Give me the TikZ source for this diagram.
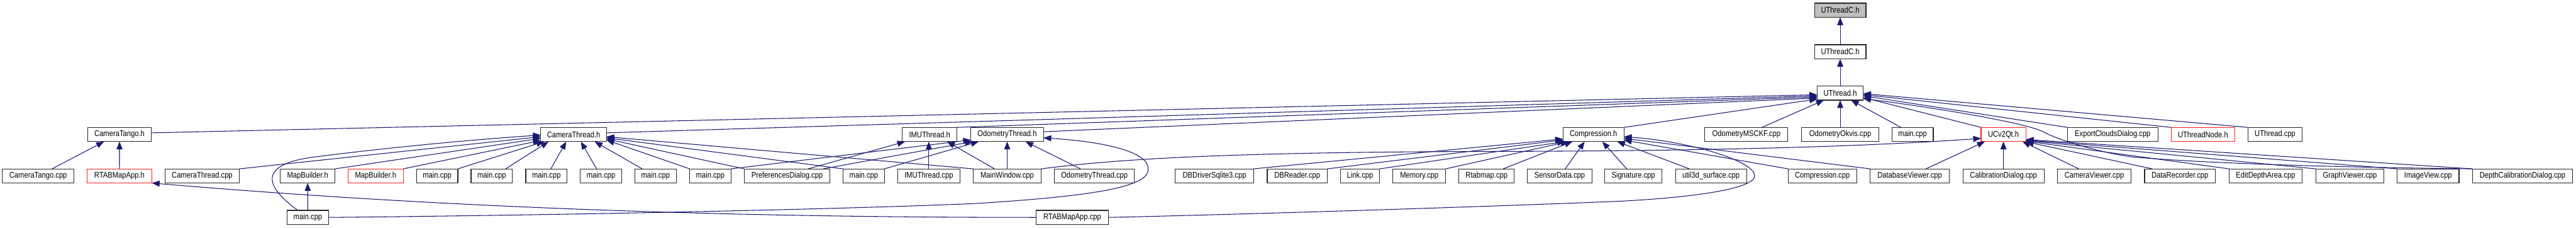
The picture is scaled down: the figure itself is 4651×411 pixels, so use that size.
\documentclass[tikz,border=0pt]{standalone}
\usepackage{fontspec}
\setmainfont{Liberation Sans}[FakeStretch=0.86]
\usetikzlibrary{arrows.meta,calc}
\definecolor{edgec}{HTML}{191970}
\definecolor{redb}{HTML}{FF2020}
\definecolor{greyf}{HTML}{BFBFBF}
\begin{document}
\begin{tikzpicture}[x=0.5pt,y=-0.5pt,
  box/.style={draw=black!85,line width=0.65pt,fill=white,minimum height=12.8pt,inner sep=0pt,outer sep=0pt,font=\fontsize{7.4}{8}\selectfont},
  redbox/.style={box,draw=redb},
  greybox/.style={box,fill=greyf},
  edge/.style={draw=edgec,line width=0.6pt,-{Triangle[length=7pt,width=5.4pt]}}]
\fill[white] (0,0) rectangle (4651,411);
\useasboundingbox (0,0) rectangle (4651,411);
% rows 0-2
\node[greybox,minimum width=46.5pt] (top) at (3322.5,18.5) {UThreadC.h};
\node[box,minimum width=46.5pt] (uthc) at (3322.5,93.4) {UThreadC.h};
\node[box,minimum width=41.5pt] (uth) at (3322.5,167.8) {UThread.h};
% row 3
\node[box,minimum width=57.4pt] (ctangoh) at (215.8,242.5) {CameraTango.h};
\node[box,minimum width=59.3pt] (cthreadh) at (1035.7,242.5) {CameraThread.h};
\node[box,minimum width=49.5pt] (imuh) at (1678.5,242.5) {IMUThread.h};
\node[box,minimum width=65.5pt] (odomh) at (1818.5,242.5) {OdometryThread.h};
\node[box,minimum width=55pt] (comph) at (2877,242.5) {Compression.h};
\node[box,minimum width=75pt] (msckf) at (3153,242.5) {OdometryMSCKF.cpp};
\node[box,minimum width=69.5pt] (okvis) at (3322.5,242.5) {OdometryOkvis.cpp};
\node[box,minimum width=37.25pt] (main3) at (3453.2,242.5) {main.cpp};
\node[redbox,minimum width=40.5pt] (ucv) at (3617.2,242.5) {UCv2Qt.h};
\node[box,minimum width=81.5pt] (export) at (3814.5,242.5) {ExportCloudsDialog.cpp};
\node[redbox,minimum width=57.25pt] (utnode) at (3977.5,242.5) {UThreadNode.h};
\node[box,minimum width=48.75pt] (uthcpp) at (4107.7,242.5) {UThread.cpp};
% row 4
\node[box,minimum width=65pt] (ctangocpp) at (68.9,317.2) {CameraTango.cpp};
\node[redbox,minimum width=58.5pt] (rtabh) at (215.7,317.2) {RTABMapApp.h};
\node[box,minimum width=67pt] (cthcpp) at (365,317.2) {CameraThread.cpp};
\node[box,minimum width=49.5pt] (mapbh) at (555.5,317.2) {MapBuilder.h};
\node[redbox,minimum width=49.7pt] (mapbhr) at (678.3,317.2) {MapBuilder.h};
\node[box,minimum width=37.3pt] (m1) at (789.3,317.2) {main.cpp};
\node[box,minimum width=37.3pt] (m2) at (887.8,317.2) {main.cpp};
\node[box,minimum width=37.3pt] (m3) at (986.5,317.2) {main.cpp};
\node[box,minimum width=37.3pt] (m4) at (1085.1,317.2) {main.cpp};
\node[box,minimum width=37.3pt] (m5) at (1183.5,317.2) {main.cpp};
\node[box,minimum width=37.3pt] (m6) at (1282.5,317.2) {main.cpp};
\node[box,minimum width=77.5pt] (prefs) at (1421.2,317.2) {PreferencesDialog.cpp};
\node[box,minimum width=37.3pt] (m7) at (1559.5,317.2) {main.cpp};
\node[box,minimum width=56pt] (imucpp) at (1677,317.2) {IMUThread.cpp};
\node[box,minimum width=61.5pt] (mainwin) at (1818.5,317.2) {MainWindow.cpp};
\node[box,minimum width=72pt] (odomcpp) at (1976,317.2) {OdometryThread.cpp};
\node[box,minimum width=70.75pt] (dbdriver) at (2192.7,317.2) {DBDriverSqlite3.cpp};
\node[box,minimum width=54.25pt] (dbreader) at (2342.2,317.2) {DBReader.cpp};
\node[box,minimum width=35.5pt] (link) at (2455.5,317.2) {Link.cpp};
\node[box,minimum width=47.5pt] (memory) at (2562.5,317.2) {Memory.cpp};
\node[box,minimum width=50pt] (rtabmap) at (2684,317.2) {Rtabmap.cpp};
\node[box,minimum width=58pt] (sensordata) at (2816,317.2) {SensorData.cpp};
\node[box,minimum width=51.35pt] (signature) at (2949,317.2) {Signature.cpp};
\node[box,minimum width=64.15pt] (util3d) at (3089.2,317.2) {util3d\_surface.cpp};
\node[box,minimum width=62pt] (compcpp) at (3290.3,317.2) {Compression.cpp};
\node[box,minimum width=71.35pt] (dbviewer) at (3448,317.2) {DatabaseViewer.cpp};
\node[box,minimum width=73.35pt] (calib) at (3617.3,317.2) {CalibrationDialog.cpp};
\node[box,minimum width=66.5pt] (camviewer) at (3781.2,317.2) {CameraViewer.cpp};
\node[box,minimum width=63.75pt] (datarec) at (3935.8,317.2) {DataRecorder.cpp};
\node[box,minimum width=65.85pt] (editdepth) at (4090.6,317.2) {EditDepthArea.cpp};
\node[box,minimum width=61.25pt] (graphv) at (4242.7,317.2) {GraphViewer.cpp};
\node[box,minimum width=55.9pt] (imagev) at (4383.9,317.2) {ImageView.cpp};
\node[box,minimum width=90.65pt] (depthcal) at (4554.4,317.2) {DepthCalibrationDialog.cpp};
% row 5
\node[box,minimum width=37.25pt] (mainb) at (555.8,392) {main.cpp};
\node[box,minimum width=65.5pt] (rtabcpp) at (1936,392) {RTABMapApp.cpp};
% edges: top chain
\draw[edge] (uthc.north) -- (top.south);
\draw[edge] (uth.north) -- (uthc.south);
% row 3 -> UThread.h
\draw[edge] ($(ctangoh.east)+(0,-3)$) -- ($(uth.west)+(0,3)$);
\draw[edge] ($(cthreadh.east)+(0,-3)$) -- ($(uth.west)+(0,5)$);
\draw[edge] (imuh.north east) -- ($(uth.west)+(0,7)$);
\draw[edge] ($(odomh.east)+(0,-5)$) -- ($(uth.west)+(0,9)$);
\draw[edge] (comph.north east) -- ($(uth.south west)+(0,-2)$);
\draw[edge] ($(msckf.north)+(28,0)$) -- ($(uth.south west)+(12,0)$);
\draw[edge] (okvis.north) -- (uth.south);
\draw[edge] ($(main3.north)+(-21,0)$) -- ($(uth.south east)+(-22,0)$);
\draw[edge] (ucv.north west) -- ($(uth.east)+(0,8)$);
\draw[edge] (export.north west) -- ($(uth.east)+(0,5)$);
\draw[edge] (utnode.north west) -- ($(uth.east)+(0,3)$);
\draw[edge] (uthcpp.north west) -- ($(uth.east)+(0,1)$);
\draw[edge] (depthcal.north west) .. controls (4250,302) and (4000,296) .. (3850,283)
  .. controls (3790,275) and (3715,252) .. (3690,238)
  .. controls (3660,222) and (3500,195) .. ($(uth.east)+(0,10)$);
% CameraTango.h
\draw[edge] ($(ctangocpp.north)+(25,0)$) -- ($(ctangoh.south)+(-28,0)$);
\draw[edge] (rtabh.north) -- (ctangoh.south);
\draw[edge] (rtabcpp.west) .. controls (1200,392) and (700,366) .. (rtabh.south east);
% MapBuilder.h
\draw[edge] (mainb.north) -- (mapbh.south);
% CameraThread.h
\draw[edge] ($(mainb.north)+(-18,0)$) .. controls (490,345) and (455,300) .. (560,284)
  .. controls (700,266) and (850,252) .. ($(cthreadh.west)+(0,1)$);
\draw[edge] (cthcpp.north east) -- ($(cthreadh.west)+(0,4)$);
\draw[edge] (mapbh.north east) -- ($(cthreadh.west)+(0,7)$);
\draw[edge] (mapbhr.north east) -- ($(cthreadh.south west)+(0,-2)$);
\draw[edge] (m1.north east) -- ($(cthreadh.south west)+(6,0)$);
\draw[edge] ($(m2.north)+(25,0)$) -- ($(cthreadh.south west)+(14,0)$);
\draw[edge] ($(m3.north)+(8,0)$) -- ($(cthreadh.south west)+(46,0)$);
\draw[edge] ($(m4.north)+(-8,0)$) -- ($(cthreadh.south)+(13,0)$);
\draw[edge] ($(m5.north)+(-24,0)$) -- ($(cthreadh.south)+(38,0)$);
\draw[edge] (m6.north west) -- ($(cthreadh.east)+(0,10)$);
\draw[edge] (prefs.north west) -- ($(cthreadh.east)+(0,8)$);
\draw[edge] (m7.north west) -- ($(cthreadh.east)+(0,6)$);
\draw[edge] (mainwin.north west) -- ($(cthreadh.east)+(0,4)$);
% IMUThread.h
\draw[edge] ($(prefs.north)+(38,0)$) -- ($(imuh.south west)+(5,0)$);
\draw[edge] (imucpp.north) -- (imucpp.north |- imuh.south);
\draw[edge] ($(mainwin.north)+(-23,0)$) -- ($(imuh.south east)+(-18,0)$);
% OdometryThread.h
\draw[edge] (m6.north east) -- ($(odomh.south west)+(0,-3)$);
\draw[edge] ($(prefs.north)+(65,0)$) -- ($(odomh.south west)+(3,0)$);
\draw[edge] (m7.north east) -- ($(odomh.south west)+(14,0)$);
\draw[edge] (mainwin.north) -- (odomh.south);
\draw[edge] ($(odomcpp.north)+(-25,0)$) -- ($(odomh.south)+(33,0)$);
\draw[edge] (mainb.east) .. controls (1000,388) and (1500,378) .. (1760,367)
  .. controls (1950,355) and (2075,340) .. (2073,305)
  .. controls (2075,275) and (2000,256) .. ($(odomh.east)+(0,6)$);
% Compression.h
\draw[edge] (dbdriver.north east) -- ($(comph.west)+(0,8)$);
\draw[edge] (dbreader.north east) -- ($(comph.south west)+(0,-3)$);
\draw[edge] (link.north east) -- ($(comph.south west)+(4,0)$);
\draw[edge] (memory.north east) -- ($(comph.south west)+(10,0)$);
\draw[edge] ($(rtabmap.north)+(30,0)$) -- ($(comph.south west)+(17,0)$);
\draw[edge] ($(sensordata.north)+(10,0)$) -- ($(comph.south west)+(39,0)$);
\draw[edge] ($(signature.north)+(-12,0)$) -- ($(comph.south)+(16,0)$);
\draw[edge] ($(util3d.north)+(-39,0)$) -- ($(comph.south east)+(-12,0)$);
\draw[edge] (compcpp.north west) -- ($(comph.east)+(0,10)$);
\draw[edge] (dbviewer.north west) -- ($(comph.east)+(0,7)$);
\draw[edge] (rtabcpp.east) .. controls (2300,385) and (2700,372) .. (2920,363)
  .. controls (3060,356) and (3168,340) .. (3168,317)
  .. controls (3168,290) and (3050,255) .. ($(comph.east)+(0,4)$);
% UCv2Qt.h
\draw[edge] (mainwin.north east) .. controls (2050,282) and (2300,274) .. (2700,273)
  .. controls (3150,272) and (3400,262) .. ($(ucv.west)+(0,7)$);
\draw[edge] ($(dbviewer.north)+(29,0)$) -- ($(ucv.south west)+(7,0)$);
\draw[edge] (calib.north) -- (ucv.south);
\draw[edge] ($(camviewer.north)+(-28,0)$) -- ($(ucv.south east)+(-6,0)$);
\draw[edge] ($(datarec.north west)+(14,0)$) -- ($(ucv.east)+(0,13)$);
\draw[edge] (editdepth.north west) -- ($(ucv.east)+(0,12)$);
\draw[edge] (graphv.north west) -- ($(ucv.east)+(0,11)$);
\draw[edge] (imagev.north west) -- ($(ucv.east)+(0,10)$);
\draw[edge] (depthcal.north west) -- ($(ucv.east)+(0,9)$);
\end{tikzpicture}
\end{document}
